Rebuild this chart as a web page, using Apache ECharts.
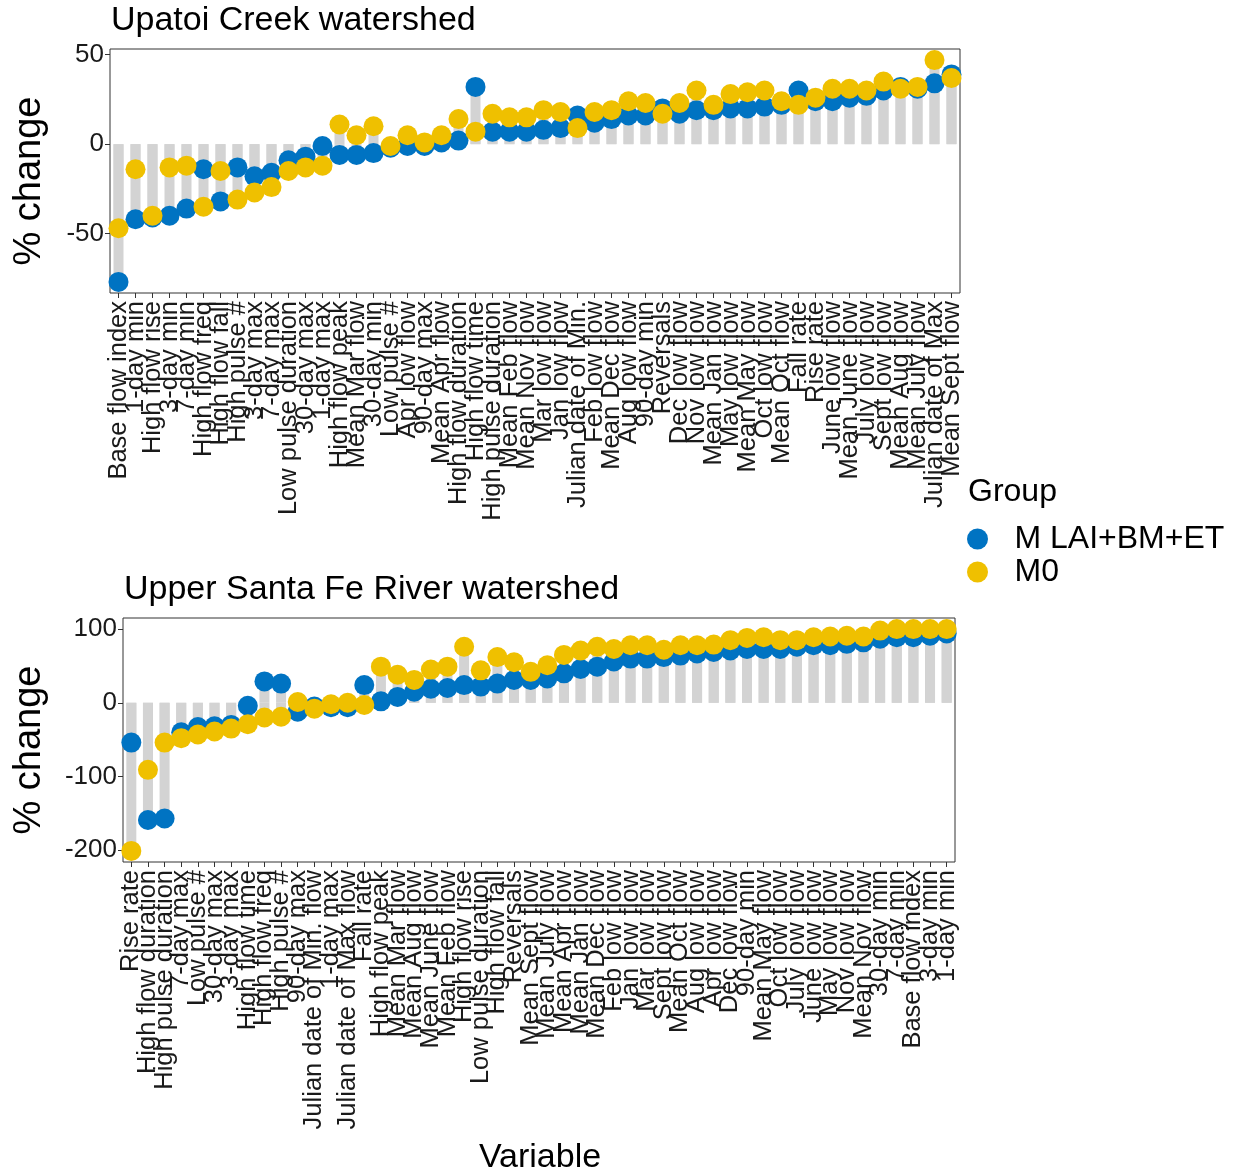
<!DOCTYPE html>
<html>
<head>
<meta charset="utf-8">
<script src="https://cdn.jsdelivr.net/npm/echarts@6/dist/echarts.min.js"></script>
<style>
  html, body { margin: 0; padding: 0; background: #ffffff; }
  #chart { width: 1240px; height: 1174px; }
</style>
</head>
<body>
<div id="chart"></div>
<script>
// Percent change of hydrologic indicators, two watersheds, two model groups.

// Upatoi Creek watershed
const upatoiVars = [
  'Base flow index', '1-day min', 'High flow rise', '3-day min', '7-day min',
  'High flow freq', 'High flow fall', 'High pulse #', '3-day max', '7-day max',
  'Low pulse duration', '30-day max', '1-day max', 'High flow peak', 'Mean Mar flow',
  '30-day min', 'Low pulse #', 'Apr low flow', '90-day max', 'Mean Apr flow',
  'High flow duration', 'High flow time', 'High pulse duration', 'Mean Feb flow', 'Mean Nov flow',
  'Mar low flow', 'Jan low flow', 'Julian date of Min.', 'Feb low flow', 'Mean Dec flow',
  'Aug low flow', '90-day min', 'Reversals', 'Dec low flow', 'Nov low flow',
  'Mean Jan flow', 'May low flow', 'Mean May flow', 'Oct low flow', 'Mean Oct flow',
  'Fall rate', 'Rise rate', 'June low flow', 'Mean June flow', 'July low flow',
  'Sept low flow', 'Mean Aug flow', 'Mean July flow', 'Julian date of Max', 'Mean Sept flow'
];
const upatoiLAI = [
  -77, -42, -41, -40, -36,
  -14, -32, -13, -18, -16,
  -9, -7, -1, -6, -6,
  -5, -2, -1, -1, 1,
  2, 32, 7, 7, 7,
  8, 9, 16, 12, 14,
  16, 16, 20, 17, 19,
  19, 20, 20, 21, 22,
  30, 24, 24, 26, 27,
  30, 32, 31, 34, 39
];
const upatoiM0 = [
  -47, -14, -40, -13, -12,
  -35, -15, -31, -27, -24,
  -15, -13, -12, 11, 5,
  10, -1, 5, 1, 5,
  14, 7, 17, 15, 15,
  19, 18, 9, 18, 19,
  24, 23, 17, 23, 30,
  22, 28, 29, 30, 24,
  22, 26, 31, 31, 30,
  35, 31, 32, 47, 37
];
const upatoiTicks = [-50, 0, 50];

// Upper Santa Fe River watershed
const santaFeVars = [
  'Rise rate', 'High flow duration', 'High pulse duration', '7-day max', 'Low pulse #',
  '30-day max', '3-day max', 'High flow time', 'High flow freq', 'High pulse #',
  '90-day max', 'Julian date of Min. flow', '1-day max', 'Julian date of Max flow', 'Fall rate',
  'High flow peak', 'Mean Mar flow', 'Mean Aug flow', 'Mean June flow', 'Mean Feb flow',
  'High flow rise', 'Low pulse duration', 'High flow fall', 'Reversals', 'Mean Sept flow',
  'Mean July flow', 'Mean Apr flow', 'Mean Jan flow', 'Mean Dec flow', 'Feb low flow',
  'Jan low flow', 'Mar low flow', 'Sept low flow', 'Mean Oct flow', 'Aug low flow',
  'Apr low flow', 'Dec low flow', '90-day min', 'Mean May flow', 'Oct low flow',
  'July low flow', 'June low flow', 'May low flow', 'Nov low flow', 'Mean Nov flow',
  '30-day min', '7-day min', 'Base flow index', '3-day min', '1-day min'
];
const santaFeLAI = [
  -54, -159, -157, -40, -33,
  -32, -30, -4, 29, 26,
  -12, -5, -6, -6, 24,
  2, 8, 15, 19, 20,
  24, 22, 26, 31, 31,
  33, 40, 46, 49, 56,
  60, 60, 62, 64, 67,
  69, 71, 73, 73, 73,
  76, 78, 78, 80, 82,
  87, 89, 89, 91, 94
];
const santaFeM0 = [
  -201, -91, -54, -48, -43,
  -39, -35, -29, -20, -19,
  1, -8, -2, 0, -3,
  49, 38, 31, 45, 49,
  76, 44, 62, 55, 42,
  51, 65, 71, 76, 73,
  78, 78, 72, 78, 78,
  79, 85, 88, 89, 85,
  85, 89, 90, 91, 90,
  98, 100, 100, 100, 100
];
const santaFeTicks = [-200, -100, 0, 100];

const groupNames = ['M LAI+BM+ET', 'M0'];
const groupColors = ['#0073C2', '#EFC000'];

const FONT = '"Liberation Sans", Arial, sans-serif';

function paddedRange(a, b) {
  const all = a.concat(b);
  const lo = Math.min(...all), hi = Math.max(...all);
  const pad = 0.05 * (hi - lo);
  return [lo - pad, hi + pad];
}

function makeX(gridIndex, cats) {
  return {
    type: 'category', gridIndex, data: cats, boundaryGap: true,
    axisLine: { show: false, onZero: false },
    axisTick: { show: true, alignWithLabel: true, interval: 0, length: 5, lineStyle: { color: '#333', width: 1 } },
    axisLabel: { interval: 0, rotate: 90, fontSize: 25.5, fontFamily: FONT, color: '#1a1a1a', margin: 8 },
    splitLine: { show: false }
  };
}

function makeY(gridIndex, a, b, ticks) {
  const r = paddedRange(a, b);
  return {
    type: 'value', gridIndex, min: r[0], max: r[1],
    axisLine: { show: false, onZero: false },
    axisTick: { show: true, length: 5, lineStyle: { color: '#333', width: 1 }, customValues: ticks },
    axisLabel: { customValues: ticks, fontSize: 26, fontFamily: FONT, color: '#1a1a1a', margin: 6 },
    splitLine: { show: false }
  };
}

function panelSeries(idx, lai, m0) {
  const stem = (vals) => ({
    type: 'bar', xAxisIndex: idx, yAxisIndex: idx, data: vals,
    barWidth: 10, barGap: '-100%', silent: true, z: 1,
    itemStyle: { color: '#D3D3D3' }
  });
  const dots = (vals, k) => ({
    type: 'scatter', name: groupNames[k], xAxisIndex: idx, yAxisIndex: idx, data: vals,
    symbol: 'circle', symbolSize: 20, z: 3 + k, silent: true,
    itemStyle: { color: groupColors[k], opacity: 1 }
  });
  return [stem(lai), stem(m0), dots(lai, 0), dots(m0, 1)];
}

const chart = echarts.init(document.getElementById('chart'), null, { renderer: 'canvas' });

const textEl = (text, x, y, size, align) => ({
  type: 'text', x, y,
  style: { text, fontSize: size, fontFamily: FONT, fill: '#000', align: align || 'left', verticalAlign: 'middle' }
});

const yTitle = (y) => ({
  type: 'text', x: 30, y, rotation: Math.PI / 2,
  style: { text: '% change', fontSize: 38, fontFamily: FONT, fill: '#000', align: 'center', verticalAlign: 'middle' }
});

chart.setOption({
  animation: false,
  backgroundColor: '#ffffff',
  grid: [
    { left: 110, top: 49, width: 850, height: 244, show: true, borderColor: '#333', borderWidth: 1, backgroundColor: 'transparent' },
    { left: 123, top: 618, width: 832, height: 244, show: true, borderColor: '#333', borderWidth: 1, backgroundColor: 'transparent' }
  ],
  xAxis: [makeX(0, upatoiVars), makeX(1, santaFeVars)],
  yAxis: [makeY(0, upatoiLAI, upatoiM0, upatoiTicks), makeY(1, santaFeLAI, santaFeM0, santaFeTicks)],
  legend: {
    data: groupNames, orient: 'vertical', left: 962, top: 518,
    itemWidth: 40, itemHeight: 21, itemGap: 1, icon: 'circle',
    selectedMode: false,
    textStyle: { fontSize: 32, fontFamily: FONT, color: '#000', padding: [0, 0, 0, 12] }
  },
  graphic: [
    textEl('Upatoi Creek watershed', 111, 21, 34),
    textEl('Upper Santa Fe River watershed', 124, 590, 34),
    textEl('Group', 968, 492, 32),
    textEl('Variable', 540, 1158, 34, 'center'),
    yTitle(181),
    yTitle(750)
  ],
  series: panelSeries(0, upatoiLAI, upatoiM0).concat(panelSeries(1, santaFeLAI, santaFeM0))
});
</script>
</body>
</html>
